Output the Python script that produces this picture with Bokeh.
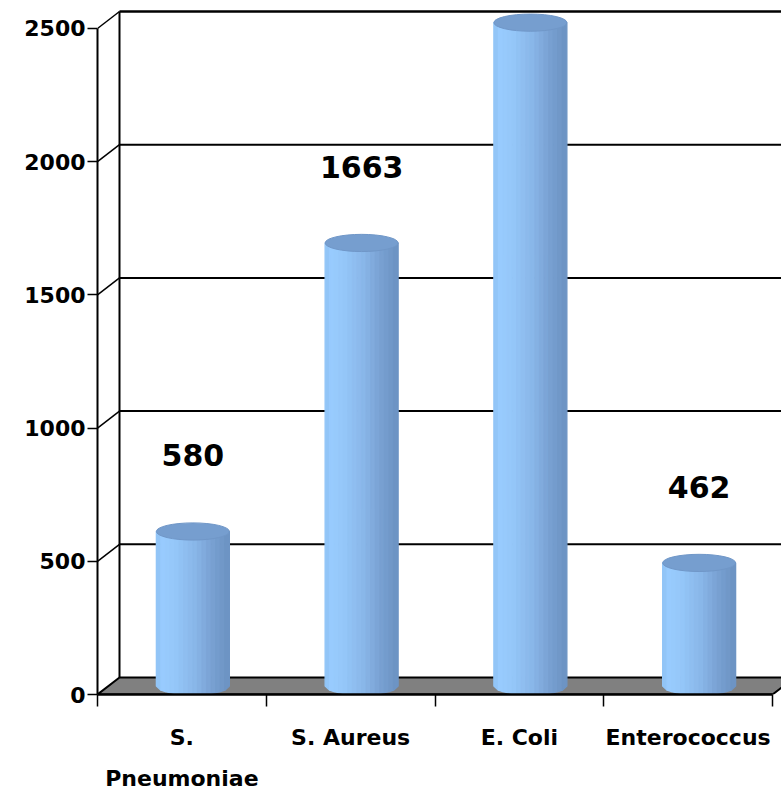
import numpy as np
from bokeh.plotting import figure
from bokeh.models import Range1d, FixedTicker, LinearAxis, ColumnDataSource
from bokeh.core.properties import value
from bokeh.embed import file_html
from bokeh.resources import INLINE

# ---------------- data ----------------
categories = ["S. Pneumoniae", "S. Aureus", "E. Coli", "Enterococcus"]
label_line1 = ["S.", "S. Aureus", "E. Coli", "Enterococcus"]
label_line2 = ["Pneumoniae", "", "", ""]
counts = [580, 1663, 2490, 462]
show_label = [True, True, False, True]
y_ticks = [0, 500, 1000, 1500, 2000, 2500]

# ---------------- layout ----------------
W, H = 781, 794
LEFT, BOTTOM = 97, 100
frame_w = W - LEFT
frame_h = H - BOTTOM
cat_px = 168.75
y_end = 2605
x_start = 0.5
x_end = x_start + frame_w / cat_px
px_per_val = frame_h / y_end
DX = 22 / cat_px          # depth offset (x units)
DY = 17 / px_per_val      # depth offset (value units)
n = len(categories)
xf0, xf1 = x_start, x_start + n   # front edge of floor
FONT = "DejaVu Sans"

p = figure(width=W, height=H, x_range=Range1d(x_start, x_end), y_range=Range1d(0, y_end),
           output_backend="svg", toolbar_location=None,
           min_border_left=LEFT, min_border_right=0, min_border_top=0, min_border_bottom=BOTTOM,
           x_axis_location=None, y_axis_location=None)
p.outline_line_color = None
p.background_fill_color = "white"
p.border_fill_color = "white"
for g in p.grid:
    g.visible = False

# ---------------- axes ----------------
yaxis = LinearAxis(ticker=FixedTicker(ticks=y_ticks), bounds=(0, 2500),
                   major_tick_out=10, major_tick_in=0, minor_tick_line_color=None,
                   axis_line_width=2, axis_line_color="black",
                   major_tick_line_width=1.5, major_tick_line_color="black",
                   major_label_standoff=2,
                   major_label_text_font=FONT, major_label_text_font_style="bold",
                   major_label_text_font_size="22px", major_label_text_color="black")
p.add_layout(yaxis, "left")

centers = [i + 1 for i in range(n)]
xaxis1 = LinearAxis(ticker=FixedTicker(ticks=centers, minor_ticks=[c - 0.5 for c in centers] + [centers[-1] + 0.5]),
                    bounds=(xf0, xf1),
                    major_label_overrides={c: t for c, t in zip(centers, label_line1)},
                    major_tick_out=0, major_tick_in=0, major_tick_line_color=None,
                    minor_tick_out=12, minor_tick_in=0, minor_tick_line_width=1.5,
                    minor_tick_line_color="black",
                    axis_line_width=2.5, axis_line_color="black",
                    major_label_standoff=18,
                    major_label_text_font=FONT, major_label_text_font_style="bold",
                    major_label_text_font_size="22px", major_label_text_color="black")
p.add_layout(xaxis1, "below")

xaxis2 = LinearAxis(ticker=FixedTicker(ticks=centers),
                    major_label_overrides={c: t for c, t in zip(centers, label_line2)},
                    axis_line_color=None, major_tick_line_color=None, minor_tick_line_color=None,
                    major_label_standoff=7,
                    major_label_text_font=FONT, major_label_text_font_style="bold",
                    major_label_text_font_size="22px", major_label_text_color="black")
p.add_layout(xaxis2, "below")

# ---------------- 3D walls ----------------
grid_vals = y_ticks[1:]
# back-wall gridlines
p.segment(x0=[xf0 + DX] * len(grid_vals), y0=[v + DY for v in grid_vals],
          x1=[xf1 + DX] * len(grid_vals), y1=[v + DY for v in grid_vals],
          line_color="black", line_width=[2] * (len(grid_vals) - 1) + [2.5])
# side diagonals
p.segment(x0=[xf0] * len(grid_vals), y0=grid_vals,
          x1=[xf0 + DX] * len(grid_vals), y1=[v + DY for v in grid_vals],
          line_color="black", line_width=1.5)
# back wall left edge
p.segment(x0=[xf0 + DX], y0=[DY], x1=[xf0 + DX], y1=[y_ticks[-1] + DY],
          line_color="black", line_width=2)
# floor
p.patch(x=[xf0, xf1, xf1 + DX, xf0 + DX], y=[0, 0, DY, DY],
        fill_color="#808080", line_color="black", line_width=2)

# ---------------- cylinders ----------------
rx = 36.5 / cat_px
ry = 8.6 / px_per_val
N = 16
u = np.linspace(-1, 1, N + 1)
stops_u = [-1.0, -0.85, -0.5, 0.1, 0.5, 1.0]
stops_c = [(142, 192, 242), (153, 204, 255), (150, 200, 250), (137, 182, 232), (122, 163, 212), (108, 146, 194)]

def col(t):
    r = np.interp(t, stops_u, [c[0] for c in stops_c])
    g = np.interp(t, stops_u, [c[1] for c in stops_c])
    b = np.interp(t, stops_u, [c[2] for c in stops_c])
    return "#%02x%02x%02x" % (int(r), int(g), int(b))

xs, ys, fills = [], [], []
for i, v in enumerate(counts):
    cx = centers[i] + DX / 2
    base = DY / 2
    top = v + DY / 2
    for k in range(N):
        ua, ub = u[k], u[k + 1]
        xa, xb = cx + rx * ua, cx + rx * ub
        ba = base - ry * np.sqrt(max(0.0, 1 - ua * ua))
        bb = base - ry * np.sqrt(max(0.0, 1 - ub * ub))
        xs.append([xa, xb, xb, xa])
        ys.append([top, top, bb, ba])
        fills.append(col((ua + ub) / 2))
p.patches(xs=xs, ys=ys, fill_color=fills, line_color=fills, line_width=1.3)

p.ellipse(x=[c + DX / 2 for c in centers], y=[v + DY / 2 for v in counts],
          width=2 * rx, height=2 * ry, fill_color="#769ecf", line_color="#7097c8", line_width=1)

# ---------------- value labels ----------------
lab = ColumnDataSource(dict(
    x=[centers[i] + DX / 2 for i in range(n) if show_label[i]],
    y=[counts[i] + DY / 2 for i in range(n) if show_label[i]],
    t=[str(counts[i]) for i in range(n) if show_label[i]],
))
p.text(x="x", y="y", text="t", source=lab, y_offset=-76,
       text_font=value(FONT), text_font_style=value("bold"), text_font_size=value("30px"),
       text_align="center", text_baseline="middle", text_color="black")

open("out.html", "w").write(file_html(p, INLINE))
